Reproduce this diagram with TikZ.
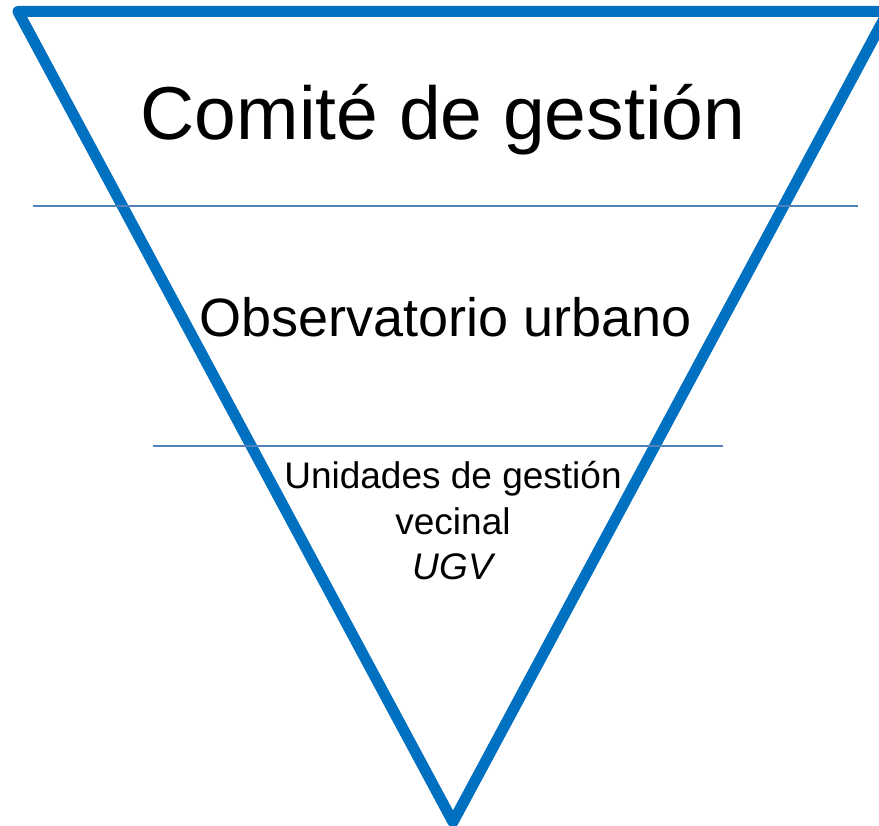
\documentclass[tikz,border=0pt]{standalone}
\usepackage{fontspec}
\setmainfont{Liberation Sans}
\usepackage{tikz}
\usepackage{color}
\definecolor{pyramidblue}{HTML}{0070C0}
\definecolor{layerblue}{HTML}{4F81BD}

\begin{document}
\begin{tikzpicture}[x=1pt, y=-1pt]
    \useasboundingbox (0,0) rectangle (879,826);
    \draw[pyramidblue, line width=11pt, line join=round] (18,11.5) -- (888,11.5) -- (453,822) -- cycle;
    \draw[layerblue, line width=2.5pt] (33,206) -- (858,206);
    \draw[layerblue, line width=2.5pt] (153,446) -- (723,446);
    \node[anchor=base, inner sep=0pt, font=\fontsize{75}{90}\selectfont] (comite) at (443,140) {Comité de gestión};
    \node[anchor=base, inner sep=0pt, font=\fontsize{54}{65}\selectfont] (observatorio) at (446,337) {Observatorio urbano};
    \node[anchor=base, inner sep=0pt, font=\fontsize{37}{45}\selectfont] (unidades) at (453,489) {Unidades de gestión};
    \node[anchor=base, inner sep=0pt, font=\fontsize{37}{45}\selectfont] (vecinal) at (453,534) {vecinal};
    \node[anchor=base, inner sep=0pt, font=\fontsize{37}{45}\selectfont\itshape] (ugv) at (453,579) {UGV};
  \end{tikzpicture}
\end{document}
